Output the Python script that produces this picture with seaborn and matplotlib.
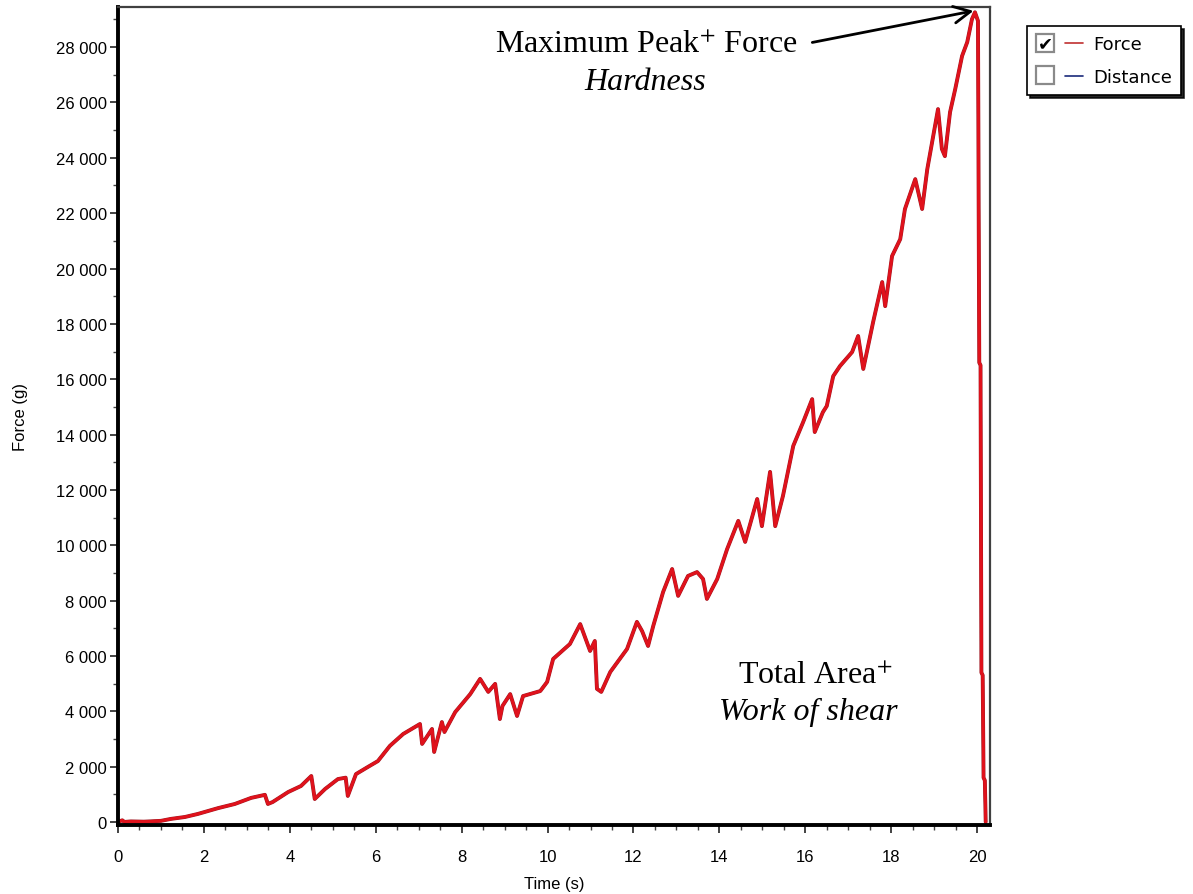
import pandas as pd
import seaborn as sns
import matplotlib
matplotlib.use("Agg")
import matplotlib.pyplot as plt
import matplotlib.patheffects as pe
from matplotlib.lines import Line2D
from matplotlib.legend_handler import HandlerTuple
from matplotlib.ticker import FuncFormatter, MultipleLocator

# значения
time_s = [0.00, 0.10, 0.15, 0.30, 0.60, 1.00, 1.23, 1.56, 1.86, 2.33,
          2.72, 3.10, 3.42, 3.49, 3.60, 3.96, 4.26, 4.50, 4.58, 4.82,
          5.12, 5.30, 5.35, 5.54, 5.82, 6.05, 6.33, 6.64, 7.03, 7.08,
          7.31, 7.36, 7.54, 7.60, 7.85, 8.20, 8.43, 8.62, 8.78, 8.89,
          8.95, 9.13, 9.29, 9.43, 9.83, 9.99, 10.13, 10.52, 10.76, 10.99,
          11.10, 11.15, 11.25, 11.46, 11.85, 12.08, 12.20, 12.34, 12.46, 12.69,
          12.90, 13.04, 13.27, 13.48, 13.62, 13.71, 13.95, 14.18, 14.44, 14.60,
          14.88, 14.99, 15.18, 15.30, 15.48, 15.72, 15.95, 16.16, 16.22, 16.41,
          16.50, 16.65, 16.81, 17.09, 17.23, 17.35, 17.58, 17.79, 17.86, 18.02,
          18.21, 18.32, 18.56, 18.72, 18.84, 19.02, 19.09, 19.18, 19.25, 19.37,
          19.49, 19.65, 19.77, 19.88, 19.95, 20.02, 20.05, 20.08, 20.10, 20.13,
          20.15, 20.18, 20.20]

force_g = [0, 60, 0, 20, 10, 40, 110, 180, 290, 500,
           650, 870, 980, 650, 720, 1080, 1300, 1660, 830, 1190,
           1550, 1600, 940, 1730, 1990, 2200, 2750, 3180, 3540, 2820,
           3360, 2530, 3610, 3250, 3970, 4620, 5170, 4700, 4990, 3720,
           4190, 4620, 3830, 4550, 4730, 5060, 5890, 6430, 7150, 6180,
           6540, 4810, 4700, 5420, 6250, 7230, 6900, 6360, 7080, 8310,
           9140, 8170, 8890, 9030, 8780, 8060, 8780, 9860, 10880, 10120,
           11670, 10690, 12650, 10690, 11780, 13590, 14450, 15280, 14090, 14810,
           15030, 16110, 16480, 16980, 17560, 16370, 18070, 19510, 18640, 20450,
           21060, 22150, 23230, 22150, 23590, 25150, 25760, 24320, 24060, 25650,
           26480, 27680, 28180, 29010, 29260, 28950, 16600, 16500, 5400, 5300,
           1600, 1500, 0]

legend_labels = ["Force", "Distance"]

df = pd.DataFrame({"Time (s)": time_s, "Force (g)": force_g})

sns.set_style("white")
plt.rcParams["font.family"] = ["Liberation Sans", "DejaVu Sans"]
plt.rcParams["mathtext.fontset"] = "stix"
plt.rcParams["text.color"] = "black"
plt.rcParams["axes.labelcolor"] = "black"

W, H = 1193, 895
fig = plt.figure(figsize=(W / 100, H / 100), dpi=100)
ax = fig.add_axes([118 / W, 69 / H, 872 / W, 818 / H])

sns.lineplot(data=df, x="Time (s)", y="Force (g)", ax=ax, color="#e0121c",
             linewidth=1.9, sort=False,
             path_effects=[pe.withStroke(linewidth=2.8, foreground="#a01822"), pe.Normal()])

ax.set_xlim(0, 20.3)
ax.set_ylim(-110, 29450)
ax.xaxis.set_major_locator(MultipleLocator(2))
ax.xaxis.set_minor_locator(MultipleLocator(0.5))
ax.yaxis.set_major_locator(MultipleLocator(2000))
ax.yaxis.set_minor_locator(MultipleLocator(1000))
ax.yaxis.set_major_formatter(FuncFormatter(lambda v, _: f"{int(v):,}".replace(",", " ")))

ax.tick_params(which="major", direction="out", length=6, width=1.2, color="#222222",
               labelcolor="black", labelsize=12)
ax.tick_params(which="minor", direction="out", length=3.5, width=1, color="#444444")
ax.tick_params(axis="x", which="major", pad=11)
ax.tick_params(axis="y", which="major", pad=2)
ax.tick_params(axis="both", which="both", bottom=True, left=True)

for side in ["left", "bottom"]:
    ax.spines[side].set_color("black")
    ax.spines[side].set_linewidth(2.8)
for side in ["top", "right"]:
    ax.spines[side].set_color("#404040")
    ax.spines[side].set_linewidth(1.6)

ax.set_xlabel("Time (s)", fontsize=12, labelpad=9)
ax.set_ylabel("Force (g)", fontsize=12, labelpad=20)

# подписи
serif = dict(fontsize=23, family="Liberation Serif", color="black", ha="center", va="center")
ax.text(12.29, 28110, "Maximum Peak$^{+}$ Force", **serif)
ax.text(12.27, 26770, "Hardness", style="italic", **serif)
ax.annotate("", xy=(19.98, 29330), xytext=(16.1, 28150),
            arrowprops=dict(arrowstyle="->", color="black", lw=2, mutation_scale=30))
ax.text(16.23, 5310, "Total Area$^{+}$", **serif)
ax.text(16.07, 4010, "Work of shear", style="italic", **serif)

# легенда: место под флажок + линия
blank = Line2D([], [], ls="", marker="")
line_force = Line2D([], [], color="#c03030", lw=1.2)
line_dist = Line2D([], [], color="#1a2a7a", lw=1.2)
leg = fig.legend([(blank, line_force), (blank, line_dist)], legend_labels,
                 handler_map={tuple: HandlerTuple(ndivide=None, pad=0.6)},
                 loc="upper left", bbox_to_anchor=(1027 / W, 1 - 27 / H), frameon=True,
                 fancybox=False, shadow={"color": "black", "alpha": 0.85}, edgecolor="black",
                 prop={"family": "DejaVu Sans", "size": 13}, handlelength=2.6,
                 handletextpad=0.55, borderpad=0.5, labelspacing=0.85, borderaxespad=0)
leg.get_frame().set_linewidth(1.2)

# флажки
for i, checked in enumerate([True, False]):
    y = 1 - (44 + 32 * i) / H
    fig.add_artist(Line2D([1045 / W], [y], transform=fig.transFigure, marker="s", ls="",
                          markersize=12.5, mfc="white", mec="#8a8a8a", mew=1.6, zorder=10))
    if checked:
        fig.text(1045 / W, y, "\u2714", fontsize=13, family="DejaVu Sans", color="black",
                 ha="center", va="center", zorder=11)

fig.savefig("out.png", dpi=100)
